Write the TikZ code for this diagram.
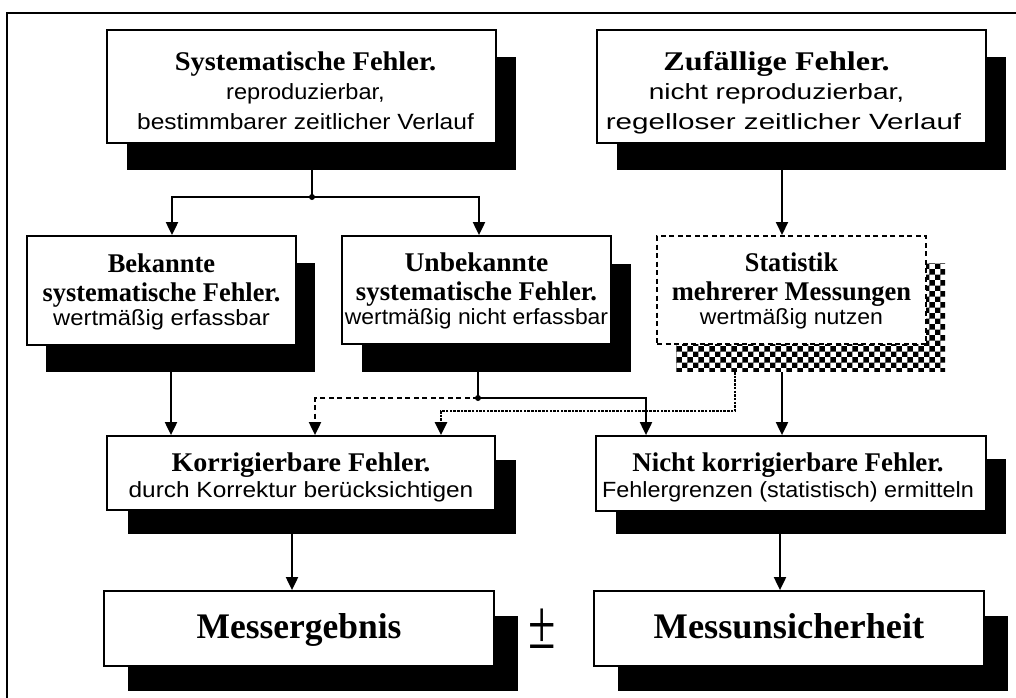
\documentclass[tikz,border=0pt]{standalone}
\usepackage{fontspec}
\setmainfont{Liberation Serif}
\setsansfont{Liberation Sans}
\usepackage{graphicx}
\usetikzlibrary{shadows,patterns,arrows.meta,calc}
\newcommand\titlef{\fontsize{27}{27}\selectfont\rmfamily\bfseries}
\newcommand\bodyf{\fontsize{22}{24}\selectfont\sffamily\mdseries}
\newcommand\bigf{\fontsize{36}{40}\selectfont\rmfamily\bfseries}
\newcommand\tline[3]{\hspace*{#1pt}\scalebox{#2}[1]{#3}}
\newcommand\tstrut[1]{\rule{0pt}{#1pt}}
\newcommand\dstrut[1]{\rule[-#1pt]{0pt}{#1pt}}
\begin{document}
\begin{tikzpicture}[x=1pt,y=-1pt,
  box/.style={draw, line width=1.8pt, fill=white, inner sep=0pt, align=center},
  lsA/.style={font=\fontsize{22}{29.5}\selectfont\sffamily},
  lsC/.style={font=\fontsize{22}{24}\selectfont\sffamily},
  lsF/.style={font=\fontsize{22}{26}\selectfont\sffamily},
  shad/.style 2 args={drop shadow={shadow xshift=#1pt, shadow yshift=-#2pt, opacity=1, fill=black}},
  pshad/.style 2 args={drop shadow={shadow xshift=#1pt, shadow yshift=-#2pt, opacity=1, pattern=checkerboard}},
  conn/.style={line width=2pt},
  arr/.style={conn, -{Triangle[length=13pt,width=12pt]}},
  dashconn/.style={arr, dash pattern=on 5pt off 3.5pt},
  dotconn/.style={arr, line width=2.3pt, dash pattern=on 2.5pt off 1.2pt},
  jdot/.style={circle, fill=black, inner sep=0pt, minimum size=6pt}
]
\useasboundingbox (0,0) rectangle (1016,697);
\fill[white] (0,0) rectangle (1016,697);
\begin{scope}
\clip (0,0) rectangle (1016,697);
\draw[line width=2.6pt] (7,720) -- (7,13) -- (1040,13);
\end{scope}

% boxes
\node[box, lsA, shad={20}{27}, minimum width=389pt, minimum height=113pt] (A) at (301.5,86.5)
  {\titlef\tstrut{32}\tline{8}{1.054}{Systematische Fehler.}\\
   \bodyf\tline{8}{1.072}{reproduzierbar,}\\
   \bodyf\dstrut{5.5}\tline{8}{1.115}{bestimmbarer zeitlicher Verlauf}};
\node[box, lsA, shad={20}{27}, minimum width=389pt, minimum height=113pt] (B) at (791.5,86.5)
  {\titlef\tstrut{32}\tline{-30}{1.193}{Zufällige Fehler.}\\
   \bodyf\tline{-30}{1.274}{nicht reproduzierbar,}\\
   \bodyf\dstrut{5.5}\tline{-16}{1.346}{regelloser zeitlicher Verlauf}};
\node[box, lsC, shad={19}{27}, minimum width=269pt, minimum height=109pt] (C) at (161.5,290.5)
  {\titlef\tstrut{22}\tline{0}{0.98}{Bekannte}\\[5pt]
   \titlef\tline{0}{0.976}{systematische Fehler.}\\
   \bodyf\dstrut{6}\tline{0}{1.08}{wertmäßig erfassbar}};
\node[box, lsC, shad={20}{28}, minimum width=269pt, minimum height=108pt] (D) at (476.5,290)
  {\titlef\tstrut{22}\tline{0}{1.02}{Unbekannte}\\[5pt]
   \titlef\tline{0}{0.99}{systematische Fehler.}\\
   \bodyf\dstrut{6}\tline{0}{1.04}{wertmäßig nicht erfassbar}};
\node[box, lsC, pshad={19}{27}, dash pattern=on 5pt off 3.5pt, line width=2pt, minimum width=269pt, minimum height=108pt] (E) at (791.5,290)
  {\titlef\tstrut{22}\tline{0}{0.97}{Statistik}\\[5pt]
   \titlef\tline{0}{0.98}{mehrerer Messungen}\\
   \bodyf\dstrut{6}\tline{0}{1.047}{wertmäßig nutzen}};
\node[box, lsF, shad={21}{24}, minimum width=388pt, minimum height=74pt] (F) at (301,473)
  {\titlef\tstrut{28}\tline{0}{1.04}{Korrigierbare Fehler.}\\
   \bodyf\dstrut{6}\tline{0}{1.11}{durch Korrektur berücksichtigen}};
\node[box, lsF, shad={20}{23}, minimum width=390pt, minimum height=75pt] (G) at (791,473.5)
  {\titlef\tstrut{28}\tline{-6}{0.995}{Nicht korrigierbare Fehler.}\\
   \bodyf\dstrut{6}\tline{-6}{1.063}{Fehlergrenzen (statistisch) ermitteln}};
\node[box, shad={24}{25}, minimum width=390pt, minimum height=75pt] (H) at (299,628.5)
  {\bigf\rule[-8pt]{0pt}{35pt}\tline{0}{0.985}{Messergebnis}};
\node[box, shad={24}{25}, minimum width=390pt, minimum height=75pt] (I) at (789,628.5)
  {\bigf\rule[-8pt]{0pt}{35pt}\tline{0}{1.01}{Messunsicherheit}};
\node (pm) at (542.5,629) {\fontsize{50}{50}\selectfont\scalebox{1}[1.4]{±}};

% helper coordinates
\coordinate (J1) at (312,197);
\coordinate (J2) at (478,398);
\coordinate (K) at (441,411);
\coordinate (x171) at (171,0);
\coordinate (x292) at (292,0);
\coordinate (x315) at (315,0);
\coordinate (x646) at (646,0);
\coordinate (x735) at (735,0);
\coordinate (x780) at (780,0);
\coordinate (x782) at (782,0);

% connectors
\draw[conn] (A.south -| J1) -- (J1);
\draw[arr] (J1) -| ([xshift=10.5pt]C.north);
\draw[arr] (J1) -| ([xshift=2.5pt]D.north);
\node[jdot] (j1) at (J1) {};
\draw[arr] (B.south -| x782) -- (E.north -| x782);
\draw[arr] (C.south -| x171) -- (F.north -| x171);
\draw[conn] (D.south -| J2) -- (J2);
\draw[arr] (J2) -| (G.north -| x646);
\draw[dashconn] (J2) -| (F.north -| x315);
\node[jdot] (j2) at (J2) {};
\draw[dotconn] ($(E.south -| x735)+(0,27)$) |- (K) -- (F.north -| K);
\draw[arr] ($(E.south -| x782)+(0,27)$) -- (G.north -| x782);
\draw[arr] (F.south -| x292) -- (H.north -| x292);
\draw[arr] (G.south -| x780) -- (I.north -| x780);
\end{tikzpicture}
\end{document}
